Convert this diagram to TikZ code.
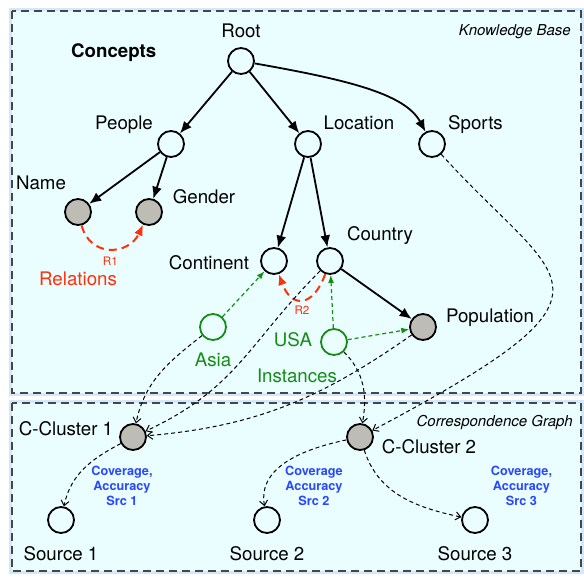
\documentclass[tikz,border=0pt]{standalone}
\usepackage{fontspec}
\setmainfont{TeX Gyre Heros}
\usetikzlibrary{arrows.meta,positioning}

\definecolor{kbfill}{RGB}{234,254,255}
\definecolor{glow}{RGB}{212,232,252}
\definecolor{attrgray}{RGB}{190,189,181}
\definecolor{relred}{RGB}{255,48,10}
\definecolor{instgreen}{RGB}{22,140,22}
\definecolor{covblue}{RGB}{40,72,255}
\definecolor{framegray}{RGB}{70,70,70}

\begin{document}
\begin{tikzpicture}[x=1pt,y=1pt,>={Latex[length=12pt,width=10pt]},on grid,
    concept/.style={circle,draw,line width=1.8pt,minimum size=26pt,inner sep=0pt,fill=kbfill},
    attr/.style={concept,fill=attrgray},
    inst/.style={concept,draw=instgreen},
    lbl/.style={inner sep=0pt,text height=13.5pt,text depth=4pt,font=\fontsize{18.7}{22}\selectfont},
    rlbl/.style={inner sep=0pt,font=\fontsize{11.7}{13}\selectfont},
    cov/.style={inner sep=0pt,align=center,text=covblue,font=\fontsize{12.7}{15}\selectfont\bfseries},
    framelbl/.style={inner sep=0pt,font=\fontsize{15}{18}\selectfont\itshape},
    frame/.style={draw=framegray,fill=kbfill,line width=1.3pt,dash pattern=on 8pt off 5pt},
    tree/.style={->,line width=1.8pt},
    rel/.style={relred,line width=2pt,dash pattern=on 8pt off 5pt,-{Latex[length=11pt,width=9pt]}},
    inlink/.style={instgreen,line width=1.2pt,dash pattern=on 4pt off 3pt,-{Latex[length=8pt,width=6pt]}},
    maps/.style={line width=1pt,dash pattern=on 4pt off 3pt,-{Straight Barb[length=5pt,width=8pt]}}]

    \useasboundingbox[fill=white] (0,0) rectangle (584,-579);

    % frames
    \draw[glow,line width=6pt] (12,-11) rectangle (581,-393);
    \draw[glow,line width=6pt] (12,-403) rectangle (581,-571);
    \draw[frame] (12,-11) rectangle (581,-393);
    \draw[frame] (12,-403) rectangle (581,-571);
    \node[framelbl,anchor=base east] (kblbl) at (571,-35) {Knowledge Base};
    \node[framelbl,anchor=base east] (cglbl) at (573,-426.7) {Correspondence Graph};

    % knowledge base
    \node[concept] (root) at (241,-61) {};
    \node[concept] (people) [below left=83pt and 70pt of root] {};
    \node[concept] (location) [below right=83pt and 67pt of root] {};
    \node[concept] (sports) [right=124pt of location] {};
    \node[attr] (name) [below left=68pt and 93pt of people] {};
    \node[attr] (gender) [right=71pt of name] {};
    \node[concept] (continent) [below left=117pt and 34pt of location] {};
    \node[concept] (country) [right=56pt of continent] {};
    \node[attr] (population) [below right=66pt and 93pt of country] {};
    \node[inst] (asia) [below left=66pt and 61pt of continent] {};
    \node[inst] (usa) [below right=81pt and 4pt of country] {};

    % correspondence graph
    \node[attr] (cluster1) [below left=110pt and 80pt of asia] {};
    \node[attr] (cluster2) [right=227pt of cluster1] {};
    \node[concept] (source1) [below left=83pt and 72pt of cluster1] {};
    \node[concept] (source2) [right=206pt of source1] {};
    \node[concept] (source3) [right=208pt of source2] {};

    % labels
    \node[lbl] (rootlbl) [above=28.5pt of root] {Root};
    \node[lbl,font=\fontsize{18.7}{22}\selectfont\bfseries] (conceptslbl) [above left=8.4pt and 127.3pt of root] {Concepts};
    \node[lbl] (peoplelbl) [above left=19pt and 47pt of people] {People};
    \node[lbl] (locationlbl) [above right=19.5pt and 51pt of location] {Location};
    \node[lbl] (sportslbl) [above right=19.5pt and 43.5pt of sports] {Sports};
    \node[lbl] (namelbl) [above left=27.5pt and 37pt of name] {Name};
    \node[lbl] (genderlbl) [above right=13pt and 55pt of gender] {Gender};
    \node[lbl] (continentlbl) [below left=3.6pt and 65pt of continent] {Continent};
    \node[lbl] (countrylbl) [above right=25pt and 50pt of country] {Country};
    \node[lbl] (populationlbl) [above right=9pt and 67pt of population] {Population};
    \node[lbl,text=instgreen] (asialbl) [below=35pt of asia] {Asia};
    \node[lbl,text=instgreen] (usalbl) [left=41pt of usa] {USA};
    \node[lbl,text=instgreen] (instanceslbl) [below left=36pt and 37pt of usa] {Instances};
    \node[lbl,text=relred] (relationslbl) [below=69pt of name] {Relations};
    \node[lbl] (cluster1lbl) [above left=6pt and 67pt of cluster1] {C-Cluster 1};
    \node[lbl] (cluster2lbl) [below right=11.6pt and 69pt of cluster2] {C-Cluster 2};
    \node[lbl] (source1lbl) [below=36pt of source1] {Source 1};
    \node[lbl] (source2lbl) [below=36pt of source2] {Source 2};
    \node[lbl] (source3lbl) [below=36pt of source3] {Source 3};
    \node[cov] (cov1) [below left=48.5pt and 11pt of cluster1] {Coverage,\\Accuracy\\Src 1};
    \node[cov] (cov2) [below left=48.5pt and 46pt of cluster2] {Coverage\\Accuracy\\Src 2};
    \node[cov] (cov3) [below right=48.5pt and 161.5pt of cluster2] {Coverage,\\Accuracy\\Src 3};

    \path[tree] (root) edge (people)
                       edge (location)
                       edge[out=-10,in=118,out looseness=1.3,in looseness=0.6] (sports)
                (people) edge (name)
                         edge (gender)
                (location) edge (continent)
                           edge (country)
                (country) edge (population);

    \path[rel] (name) edge[out=-75,in=-115,looseness=1.4] node[rlbl,below=7pt] {R1} (gender)
               (country) edge[out=-110,in=-70,looseness=2] node[rlbl,below=5pt] {R2} (continent);

    \path[inlink] (asia) edge (continent)
                  (usa) edge (country)
                        edge (population);

    \path[maps] (asia) edge[out=-142,in=78] (cluster1)
                (country) edge[out=-135,in=25,looseness=1.1] (cluster1)
                (population) edge[out=-145,in=5] (cluster1)
                (usa) edge[out=-45,in=80] (cluster2)
                (sports) edge[out=-48,in=28,out looseness=1.6,in looseness=2.75] (cluster2)
                (cluster1) edge[out=-152,in=78] (source1)
                (cluster2) edge[out=-168,in=100] (source2)
                           edge[out=-72,in=168] (source3);
\end{tikzpicture}
\end{document}
